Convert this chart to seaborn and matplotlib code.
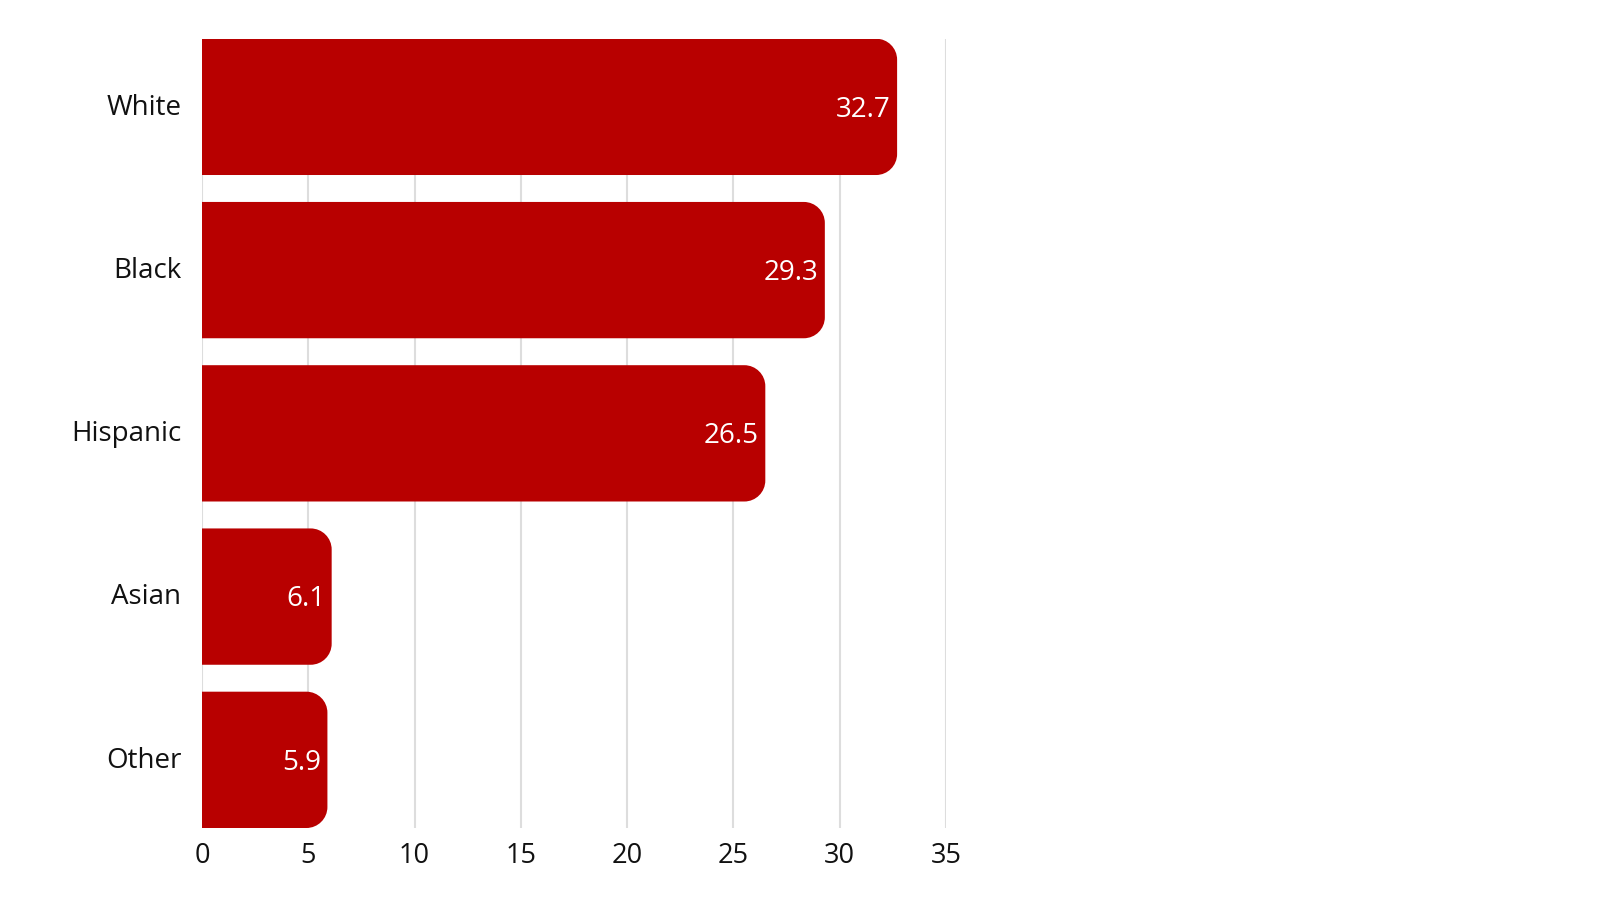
import pandas as pd
import seaborn as sns
import matplotlib.pyplot as plt
from matplotlib.patches import PathPatch
from matplotlib.path import Path
from matplotlib.transforms import ScaledTranslation

# Data
groups = ['White', 'Black', 'Hispanic', 'Asian', 'Other']
values = [32.7, 29.3, 26.5, 6.1, 5.9]
xticks = [0, 5, 10, 15, 20, 25, 30, 35]

bar_color = '#B80000'
df = pd.DataFrame({'group': groups, 'value': values})

sns.set_style('white')
plt.rcParams['font.family'] = ['Open Sans', 'DejaVu Sans']

fig = plt.figure(figsize=(16, 9), dpi=100)
ax = fig.add_axes([0.12625, 0.08, 0.465, 0.877])

sns.barplot(data=df, x='value', y='group', orient='h', color=bar_color,
            width=0.835, saturation=1, ax=ax, zorder=2)

ax.set_xlim(0, 35)
ax.set_ylim(len(groups) - 1 + 0.4175, -0.4175)

# swap the plain bars for bars with rounded right corners
fig.canvas.draw()
px_x = ax.transData.transform((1, 0))[0] - ax.transData.transform((0, 0))[0]
px_y = abs(ax.transData.transform((0, 1))[1] - ax.transData.transform((0, 0))[1])
r_px = 21
rx = r_px / px_x
ry = r_px / px_y
k = 0.5523  # bezier circle constant

bars = list(ax.patches)
for p in bars:
    x, y, w, h = p.get_x(), p.get_y(), p.get_width(), p.get_height()
    p.remove()
    x1, y1 = x + w, y + h
    verts = [(x, y), (x1 - rx, y),
             (x1 - rx + k * rx, y), (x1, y + ry - k * ry), (x1, y + ry),
             (x1, y1 - ry),
             (x1, y1 - ry + k * ry), (x1 - rx + k * rx, y1), (x1 - rx, y1),
             (x, y1), (x, y)]
    codes = [Path.MOVETO, Path.LINETO,
             Path.CURVE4, Path.CURVE4, Path.CURVE4,
             Path.LINETO,
             Path.CURVE4, Path.CURVE4, Path.CURVE4,
             Path.LINETO, Path.CLOSEPOLY]
    ax.add_patch(PathPatch(Path(verts, codes), fc=bar_color, ec='none', lw=0, zorder=2))

for i, v in enumerate(values):
    ax.text(v - 0.3, i - 0.005, f'{v}', color='white', fontsize=20, ha='right',
            va='center_baseline', zorder=3)

ax.set_xticks(xticks)
ax.set_xticklabels([str(t) for t in xticks])
ax.tick_params(axis='x', labelsize=19.5, length=0, pad=10, labelcolor='#111111')
ax.tick_params(axis='y', labelsize=20, length=0, pad=15, labelcolor='#111111')
ax.set_xlabel('')
ax.set_ylabel('')
for lab in ax.get_yticklabels():
    lab.set_transform(lab.get_transform() + ScaledTranslation(0, 2 / 72, fig.dpi_scale_trans))

ax.grid(axis='x', color='#DDDDDD', linewidth=1.5, zorder=0)
ax.grid(axis='y', visible=False)
ax.set_axisbelow(True)
for s in ax.spines.values():
    s.set_visible(False)

fig.savefig('out.png', dpi=100, facecolor='white')
